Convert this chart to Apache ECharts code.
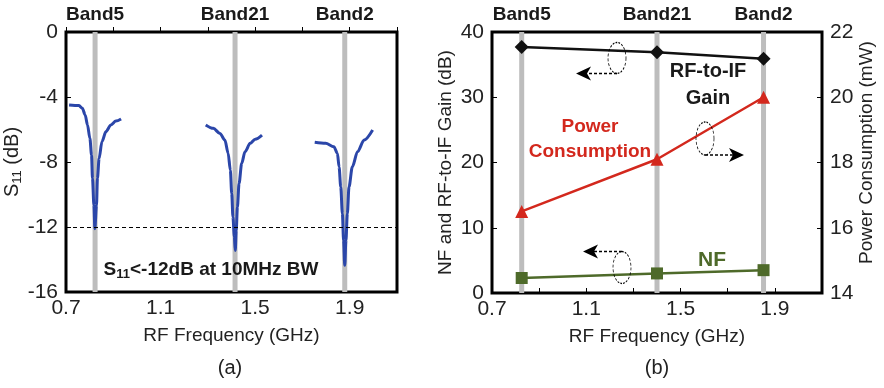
<!DOCTYPE html>
<html>
<head>
<meta charset="utf-8">
<title>S11 / Gain / NF / Power</title>
<script src="https://cdn.jsdelivr.net/npm/echarts@6/dist/echarts.min.js"></script>
<style>
    html, body { margin: 0; padding: 0; background: #fff; }
    #chart { width: 884px; height: 388px; }
</style>
</head>
<body>
<div id="chart"></div>
<script>
// 数据
const bandNames   = ['Band5', 'Band21', 'Band2'];
const bandFreqA   = [0.823, 1.415, 1.879];     // (a) 灰色频带位置 GHz
const bandFreqB   = [0.826, 1.400, 1.852];     // (b) 灰色频带位置 GHz
const xTickLabels = ['0.7', '1.1', '1.5', '1.9'];

// (a) S11 曲线 [GHz, dB]
const band5S11 = [[0.713,-4.49],[0.755,-4.53],[0.769,-4.69],[0.781,-5.10],[0.791,-5.72],[0.801,-6.54],[0.808,-7.57],[0.812,-9.00],[0.818,-10.66],[0.822,-12.10],[0.829,-10.66],[0.833,-9.00],[0.840,-7.78],[0.852,-6.75],[0.869,-6.13],[0.890,-5.72],[0.911,-5.48],[0.933,-5.35]];
const band21S11 = [[1.291,-5.72],[1.323,-5.93],[1.351,-6.24],[1.372,-6.65],[1.386,-7.47],[1.395,-8.50],[1.401,-9.94],[1.406,-11.38],[1.412,-12.60],[1.416,-13.44],[1.420,-12.20],[1.425,-10.77],[1.432,-9.32],[1.443,-8.09],[1.457,-7.37],[1.479,-6.85],[1.500,-6.60],[1.529,-6.34]];
const band2S11 = [[1.752,-6.79],[1.798,-6.85],[1.833,-7.06],[1.848,-7.47],[1.855,-8.30],[1.862,-9.53],[1.869,-11.17],[1.874,-12.82],[1.879,-14.36],[1.884,-12.82],[1.890,-11.17],[1.897,-9.53],[1.911,-8.30],[1.933,-7.37],[1.961,-6.65],[1.997,-6.03]];
const s11Limit = -12;

// (b) 每个频带的测量值
const gainDb  = [37.7, 36.9, 35.9];
const powerMw = [16.5, 18.1, 20.0];
const nfDb    = [2.3, 3.0, 3.5];

const FONT  = '"Liberation Sans Narrow", "Liberation Sans", Arial, sans-serif';
const BLUE  = '#2b46a9';
const RED   = '#d3281d';
const GREEN = '#4e6a2a';
const GRAY  = '#bdbdbd';

let chart = echarts.init(document.getElementById('chart'), null, { renderer: 'canvas' });

// 横轴
function xAxisOf(gridIndex) {
    return {
        gridIndex: gridIndex,
        type: 'value',
        min: 0.7, max: 2.1, interval: 0.2,
        name: 'RF Frequency (GHz)',
        nameLocation: 'middle',
        nameGap: 34,
        nameTextStyle: { fontFamily: FONT, fontSize: 19, color: '#222' },
        axisLine: { show: false },
        axisTick: { inside: true, length: 5, lineStyle: { color: '#000', width: 1 } },
        axisLabel: {
            fontFamily: FONT, fontSize: 21, color: '#222', margin: 6,
            formatter: v => xTickLabels.includes(v.toFixed(1)) ? v.toFixed(1) : ''
        },
        splitLine: { show: false }
    };
}

function yAxisOf(gridIndex, min, max, interval, name, position, gap) {
    return {
        gridIndex: gridIndex,
        type: 'value',
        position: position,
        min: min, max: max, interval: interval,
        name: name,
        nameLocation: 'middle',
        nameRotate: 90,
        nameGap: gap,
        nameTextStyle: {
            fontFamily: FONT, fontSize: 19, color: '#222',
            rich: {
                s:   { fontFamily: FONT, fontSize: 20, color: '#222' },
                sub: { fontFamily: FONT, fontSize: 13, color: '#222', padding: [9, 0, 0, 0] }
            }
        },
        axisLine: { show: false },
        axisTick: { inside: true, length: 5, lineStyle: { color: '#000', width: 1 } },
        axisLabel: { fontFamily: FONT, fontSize: 21, color: '#222', margin: 8 },
        splitLine: { show: false }
    };
}

// 灰色频带竖线 + 顶部标签
function bandSeries(freqs, xIdx, yIdx, yMin, yMax) {
    return freqs.map((f, i) => ({
        type: 'line',
        xAxisIndex: xIdx, yAxisIndex: yIdx,
        z: 1, silent: true,
        symbol: 'circle', symbolSize: 1,
        itemStyle: { color: 'rgba(0,0,0,0)' },
        lineStyle: { color: GRAY, width: 5 },
        data: [
            [f, yMin],
            { value: [f, yMax], label: {
                show: true, position: 'top', distance: 7,
                formatter: bandNames[i],
                fontFamily: FONT, fontSize: 19, fontWeight: 'bold', color: '#1a1a1a'
            } }
        ]
    }));
}

function s11Series(data) {
    return {
        type: 'line', xAxisIndex: 0, yAxisIndex: 0, z: 3,
        symbol: 'none', smooth: 0.3, smoothMonotone: 'x',
        lineStyle: { color: BLUE, width: 3 },
        data: data
    };
}

// 虚线椭圆 + 虚线箭头
function ellipse(cx, cy, rx, ry) {
    return {
        type: 'circle', x: cx, y: cy, scaleX: rx / ry, z: 10, silent: true,
        shape: { cx: 0, cy: 0, r: ry },
        style: { fill: 'none', stroke: '#000', lineWidth: 1.3, lineDash: [3, 2], strokeNoScale: true }
    };
}
function arrow(x1, y, x2) {
    let dir = x2 > x1 ? 1 : -1;
    return [
        { type: 'line', z: 10, silent: true,
          shape: { x1: x1, y1: y, x2: x2 - dir * 9, y2: y },
          style: { stroke: '#000', lineWidth: 1.3, lineDash: [3, 2] } },
        { type: 'polygon', z: 10, silent: true,
          shape: { points: [[x2, y], [x2 - dir * 15, y - 7], [x2 - dir * 11, y], [x2 - dir * 15, y + 7]] },
          style: { fill: '#000' } }
    ];
}
function label(text, x, y, color, size, weight) {
    return {
        type: 'text', x: x, y: y, z: 10, silent: true,
        style: {
            text: text, x: 0, y: 0, align: 'center', verticalAlign: 'middle',
            fontFamily: FONT, fontSize: size, fontWeight: weight || 'normal', fill: color,
            rich: {
                b:   { fontFamily: FONT, fontSize: size, fontWeight: 'bold', fill: color },
                sub: { fontFamily: FONT, fontSize: 13, fontWeight: 'bold', fill: color, padding: [9, 0, 0, 0] }
            }
        }
    };
}

let option = {
    animation: false,
    backgroundColor: '#fff',
    grid: [
        { left: 66, top: 32, width: 331, height: 260, show: true, borderColor: '#000', borderWidth: 3, backgroundColor: 'transparent' },
        { left: 492, top: 32, width: 330, height: 261, show: true, borderColor: '#000', borderWidth: 3, backgroundColor: 'transparent' }
    ],
    xAxis: [xAxisOf(0), xAxisOf(1)],
    yAxis: [
        yAxisOf(0, -16, 0, 4, '{s|S}{sub|11}{s| (dB)}', 'left', 38),
        yAxisOf(1, 0, 40, 10, 'NF and RF-to-IF Gain (dB)', 'left', 37),
        Object.assign(yAxisOf(1, 14, 22, 2, 'Power Consumption (mW)', 'right', 35), {
            nameTextStyle: { fontFamily: FONT, fontSize: 19, color: '#222', padding: [0, 0, 0, 20] }
        })
    ],
    series: [
        ...bandSeries(bandFreqA, 0, 0, -16, 0),
        ...bandSeries(bandFreqB, 1, 1, 0, 40),
        Object.assign(s11Series(band5S11), {
            markLine: {
                silent: true, symbol: 'none', label: { show: false },
                lineStyle: { color: '#000', width: 1, type: [4, 3] },
                data: [{ yAxis: s11Limit }]
            }
        }),
        s11Series(band21S11),
        s11Series(band2S11),
        {
            name: 'RF-to-IF Gain', type: 'line', xAxisIndex: 1, yAxisIndex: 1, z: 4,
            symbol: 'diamond', symbolSize: 14, color: '#111',
            lineStyle: { color: '#111', width: 2.5 },
            data: bandFreqB.map((f, i) => [f, gainDb[i]])
        },
        {
            name: 'Power Consumption', type: 'line', xAxisIndex: 1, yAxisIndex: 2, z: 4,
            symbol: 'triangle', symbolSize: 13, color: RED,
            lineStyle: { color: RED, width: 2.5 },
            data: bandFreqB.map((f, i) => [f, powerMw[i]])
        },
        {
            name: 'NF', type: 'line', xAxisIndex: 1, yAxisIndex: 1, z: 4,
            symbol: 'rect', symbolSize: 12, color: GREEN,
            lineStyle: { color: GREEN, width: 2.5 },
            data: bandFreqB.map((f, i) => [f, nfDb[i]])
        }
    ],
    graphic: [
        label('{b|S}{sub|11}{b|<-12dB at 10MHz BW}', 211, 270, '#1a1a1a', 19, 'bold'),
        label('RF-to-IF', 708, 71, '#1a1a1a', 20, 'bold'),
        label('Gain', 708, 98, '#1a1a1a', 20, 'bold'),
        label('Power', 590, 127, RED, 19, 'bold'),
        label('Consumption', 590, 152, RED, 19, 'bold'),
        label('NF', 712, 260, GREEN, 21, 'bold'),
        label('(a)', 230, 368, '#222', 20),
        label('(b)', 657, 368, '#222', 20),
        ellipse(617, 58, 9, 15.5),
        ...arrow(617, 73.5, 576),
        ellipse(705, 138.5, 9, 16.5),
        ...arrow(705, 155, 744),
        ellipse(622, 267.5, 9, 16),
        ...arrow(622, 251.5, 583)
    ]
};

chart.setOption(option);
</script>
</body>
</html>
